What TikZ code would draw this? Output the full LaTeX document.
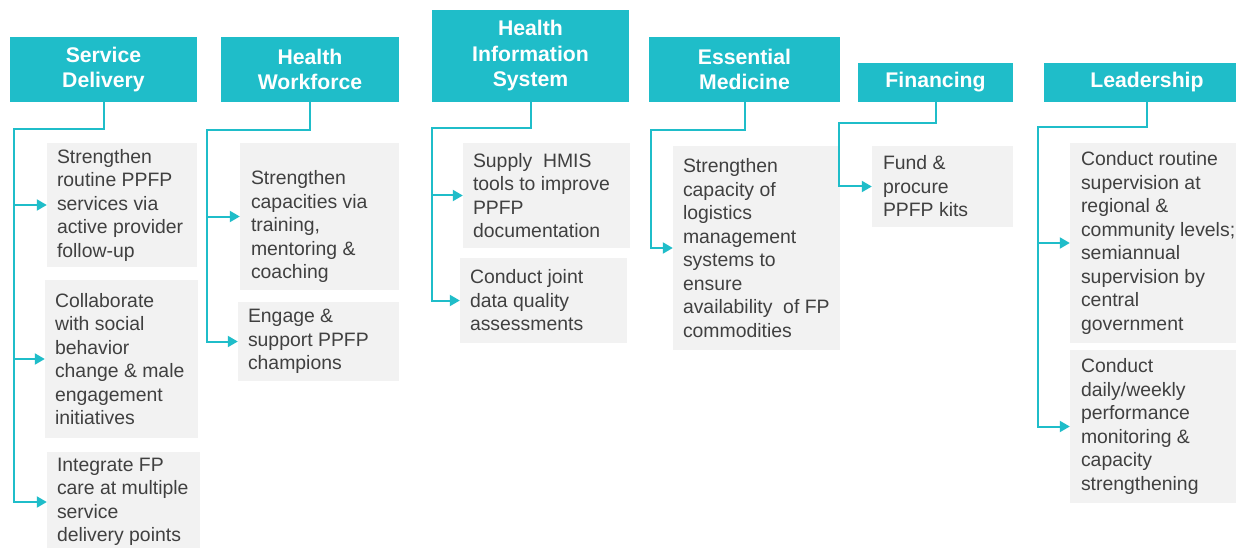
\documentclass[tikz,border=0pt]{standalone}
\usepackage{fontspec}
\setmainfont{Liberation Sans}
\usetikzlibrary{arrows.meta,calc}
\definecolor{teal1}{HTML}{1FBDC9}
\definecolor{boxgray}{HTML}{F2F2F2}
\definecolor{txtgray}{HTML}{404040}
\begin{document}
\begin{tikzpicture}[x=1pt,y=-1pt,
  hd/.style={fill=teal1,text=white,font=\fontsize{21.2}{25.5}\selectfont\bfseries,align=center,inner sep=0pt},
  bx/.style={fill=boxgray,inner sep=0pt},
  tx/.style={text=txtgray,font=\fontsize{19.4}{23.5}\selectfont,align=left,inner sep=0pt,anchor=west},
  conn/.style={draw=teal1,line width=2pt},
  arr/.style={conn,-{Triangle[length=10pt,width=11pt]}}]
\clip (0,0) rectangle (1236,548);
\fill[white] (0,0) rectangle (1236,548);
% headers
\node[hd,minimum width=187,minimum height=65] (sd) at (103.5,69.5) {Service\\Delivery};
\node[hd,minimum width=178,minimum height=65] (hw) at (310,69.5) {Health\\Workforce};
\node[hd,minimum width=197,minimum height=92] (his) at (530.5,56) {Health\\Information\\System};
\node[hd,minimum width=191,minimum height=65] (em) at (744.5,69.5) {Essential\\Medicine};
\node[hd,minimum width=155,minimum height=39] (fin) at (935.5,82.5) {Financing};
\node[hd,minimum width=206,minimum height=39] (ld) at (1147,82.5) {Leadership};
% boxes
\node[bx,minimum width=150,minimum height=124] (sd1) at (122,205) {};
\node[bx,minimum width=153,minimum height=158] (sd2) at (121.5,359) {};
\node[bx,minimum width=153,minimum height=100] (sd3) at (123.5,502) {};
\node[bx,minimum width=159,minimum height=147] (hw1) at (319.5,216.5) {};
\node[bx,minimum width=161,minimum height=79] (hw2) at (318.5,341.5) {};
\node[bx,minimum width=167,minimum height=105] (his1) at (546.5,195.5) {};
\node[bx,minimum width=167,minimum height=85] (his2) at (543.5,300.5) {};
\node[bx,minimum width=167,minimum height=204] (em1) at (756.5,248) {};
\node[bx,minimum width=141,minimum height=81] (fin1) at (942.5,186.5) {};
\node[bx,minimum width=180,minimum height=200] (ld1) at (1160,243) {};
\node[bx,minimum width=180,minimum height=153] (ld2) at (1160,426.5) {};
% texts
\node[tx] (sd1t) at ($(sd1.west)+(10,0)$) {Strengthen\\routine PPFP\\services via\\active provider\\follow-up};
\node[tx] (sd2t) at ($(sd2.west)+(10,0)$) {Collaborate\\with social\\behavior\\change \& male\\engagement\\initiatives};
\node[tx] (sd3t) at ($(sd3.west)+(10,0)$) {Integrate FP\\care at multiple\\service\\delivery points};
\node[tx] (hw1t) at ($(hw1.west)+(11,10)$) {Strengthen\\capacities via\\training,\\mentoring \&\\coaching};
\node[tx] (hw2t) at ($(hw2.west)+(10,0)$) {Engage \&\\support PPFP\\champions};
\node[tx] (his1t) at ($(his1.west)+(10,0)$) {Supply\ \ HMIS\\tools to improve\\PPFP\\documentation};
\node[tx] (his2t) at ($(his2.west)+(10,0)$) {Conduct joint\\data quality\\assessments};
\node[tx] (em1t) at ($(em1.west)+(10,0)$) {Strengthen\\capacity of\\logistics\\management\\systems to\\ensure\\availability\ \ of FP\\commodities};
\node[tx] (fin1t) at ($(fin1.west)+(11,0)$) {Fund \&\\procure\\PPFP kits};
\node[tx] (ld1t) at ($(ld1.west)+(11,0)$) {Conduct routine\\supervision at\\regional \&\\community levels;\\semiannual\\supervision by\\central\\government};
\node[tx] (ld2t) at ($(ld2.west)+(11,0)$) {Conduct\\daily/weekly\\performance\\monitoring \&\\capacity\\strengthening};
% trunk corners
\coordinate (sdk) at (14,129);
\coordinate (hwk) at (207,130);
\coordinate (hisk) at (432,128);
\coordinate (emk) at (651,130);
\coordinate (fink) at (839,123);
\coordinate (ldk) at (1038,127);
% connectors
\draw[arr] (sd.south) |- (sdk) |- (sd1.west);
\draw[arr] (sdk) |- (sd2.west);
\draw[arr] (sdk) |- (sd3.west);
\draw[arr] (hw.south) |- (hwk) |- (hw1.west);
\draw[arr] (hwk) |- (hw2.west);
\draw[arr] (his.south) |- (hisk) |- (his1.west);
\draw[arr] (hisk) |- (his2.west);
\draw[arr] (em.south) |- (emk) |- (em1.west);
\draw[arr] (fin.south) |- (fink) |- (fin1.west);
\draw[arr] (ld.south) |- (ldk) |- (ld1.west);
\draw[arr] (ldk) |- (ld2.west);
\end{tikzpicture}
\end{document}
